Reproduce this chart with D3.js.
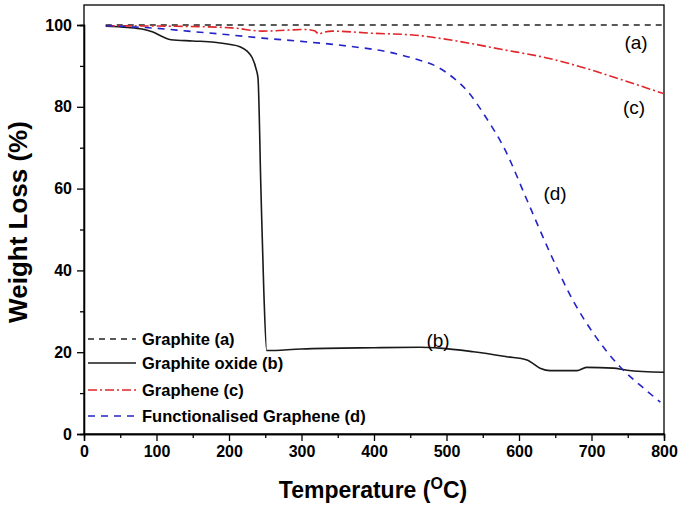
<!DOCTYPE html>
<html><head><meta charset="utf-8">
<script src="https://cdn.jsdelivr.net/npm/d3@7"></script>
<style>body{margin:0;background:#fff}svg{display:block}</style>
</head><body><svg id="c" width="685" height="528"></svg>
<script>
// ---- data ----
const xTicks = [0,100,200,300,400,500,600,700,800];
const yTicks = [0,20,40,60,80,100];
const graphiteT = [30, 800];
const graphiteW = [100, 100];
const oxideT = [30,60,80,95,110,120,150,180,200,215,225,232,237,240,244,248,252,300,400,463,491,537,583,611,629,643,680,693,730,749,800];
const oxideW = [99.7,99.4,99.0,98.3,97.0,96.4,96.1,95.8,95.3,94.7,93.6,92.0,89.5,87.0,60,35,20.4,20.8,21.1,21.2,21.0,20.1,18.9,18.1,16.1,15.5,15.5,16.3,16.1,15.6,15.1];
const grapheneT = [30,125,204,246,306,318,324,330,342,396,457,517,577,637,698,740,800];
const grapheneW = [99.8,99.7,99.3,98.5,98.9,98.6,97.8,98.2,98.5,98.0,97.5,96.0,94.0,92.0,89.1,86.7,83.2];
const funcT = [30,60,100,143,200,246,300,366,420,457,487,510,530,553,581,611,643,674,707,739,770,795];
const funcW = [99.8,99.6,99.2,98.5,97.6,96.8,96.0,94.8,93.4,91.7,89.8,87.0,83.6,77.8,69.4,57.2,44.2,32.8,23.5,16.5,11.5,7.8];
const legendLabels = ["Graphite (a)","Graphite oxide (b)","Graphene (c)","Functionalised Graphene (d)"];

const svg = d3.select("#c");
const x = d3.scaleLinear().domain([0,800]).range([84,664]);
const y = d3.scaleLinear().domain([0,100]).range([434,25]);
const F = "'Liberation Sans', Arial, sans-serif";

// frame
svg.append("rect").attr("x",84).attr("y",5).attr("width",580).attr("height",429)
  .attr("fill","none").attr("stroke","#000").attr("stroke-width",1.3);

// axes
svg.append("g").attr("transform","translate(0,434)")
  .call(d3.axisBottom(x).tickValues(xTicks).tickSize(7).tickPadding(5).tickFormat(d3.format("d")));
svg.append("g").attr("transform","translate(0,434)")
  .call(d3.axisBottom(x).tickValues(d3.range(50,800,100)).tickSize(4).tickFormat(""));
svg.append("g").attr("transform","translate(84,0)")
  .call(d3.axisLeft(y).tickValues(yTicks).tickSize(7).tickPadding(5));
svg.append("g").attr("transform","translate(84,0)")
  .call(d3.axisLeft(y).tickValues([10,30,50,70,90]).tickSize(4).tickFormat(""));
svg.selectAll(".domain").attr("stroke","#000").attr("stroke-width",1.3);
svg.selectAll(".tick line").attr("stroke","#000").attr("stroke-width",1.3);
svg.selectAll(".tick text").attr("font-family",F).attr("font-weight","bold").attr("font-size","16px").attr("fill","#000");

// axis titles
svg.append("text").attr("x",373).attr("y",498).attr("text-anchor","middle")
  .attr("font-family",F).attr("font-weight","bold").attr("font-size","23px")
  .call(t=>{t.append("tspan").text("Temperature (");
    t.append("tspan").attr("dy",-9).attr("font-size","16px").text("O");
    t.append("tspan").attr("dy",9).text("C)");});
svg.append("text").attr("transform","translate(27,222) rotate(-90)").attr("text-anchor","middle")
  .attr("font-family",F).attr("font-weight","bold").attr("font-size","26px").text("Weight Loss (%)");

// lines
const line = d3.line().x(d=>x(d[0])).y(d=>y(d[1])).curve(d3.curveMonotoneX);
const series = [
  {t:graphiteT,w:graphiteW,color:"#222",dash:"6,5"},
  {t:oxideT,w:oxideW,color:"#1a1a1a",dash:null},
  {t:grapheneT,w:grapheneW,color:"#e0262a",dash:"9,3,2,3"},
  {t:funcT,w:funcW,color:"#2424c8",dash:"7,6"}
];
series.forEach(s=>{
  const pts = s.t.map((v,i)=>[v,s.w[i]]);
  svg.append("path").datum(pts).attr("d",line).attr("fill","none")
    .attr("stroke",s.color).attr("stroke-width",1.6)
    .attr("stroke-dasharray",s.dash);
});

// legend
const ly = [339,363,390,416];
series.forEach((s,i)=>{
  svg.append("line").attr("x1",88).attr("x2",136).attr("y1",ly[i]).attr("y2",ly[i])
    .attr("stroke",s.color).attr("stroke-width",1.6).attr("stroke-dasharray",s.dash);
  svg.append("text").attr("x",142).attr("y",ly[i]).attr("dy","0.35em")
    .attr("font-family",F).attr("font-weight","bold").attr("font-size","16.5px").text(legendLabels[i]);
});

// annotations
const ann = [["(a)",636,42],["(c)",634,107],["(d)",555,193],["(b)",438,340]];
ann.forEach(a=>svg.append("text").attr("x",a[1]).attr("y",a[2]).attr("dy","0.35em")
  .attr("text-anchor","middle").attr("font-family",F).attr("font-size","19px").text(a[0]));
</script></body></html>
